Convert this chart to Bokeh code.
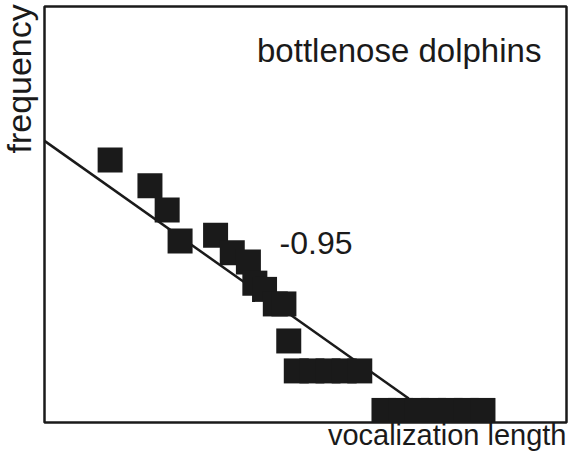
import numpy as np
from bokeh.plotting import figure
from bokeh.models import Range1d, Label, BoxAnnotation
from bokeh.embed import file_html
from bokeh.resources import INLINE

# data (arbitrary log-like units)
voc_len = [1.22, 1.96, 2.28, 2.52, 3.18, 3.49, 3.79, 3.91, 4.09, 4.29, 4.45, 4.54,
           4.68, 4.97, 5.27, 5.57, 5.86,
           6.31, 6.62, 6.92, 7.23, 7.54, 7.84, 8.15]
freq = [6.31, 5.69, 5.11, 4.36, 4.50, 4.08, 3.86, 3.35, 3.20, 2.85, 2.85, 1.96,
        1.24, 1.24, 1.24, 1.24, 1.24,
        0.29, 0.29, 0.29, 0.29, 0.29, 0.29, 0.29]
fit_intercept = 6.77
fit_slope = -0.915
fit_x = [0.0, 6.77]
species = "bottlenose dolphins"
slope_label = "-0.95"
x_title = "vocalization length"
y_title = "frequency"

FONT = "Liberation Sans"
INK = "#1a1a1a"

W, H = 568, 452
PX_X, PX_Y = 53.8, 41.6          # pixels per data unit
LEFT, BOTTOM = 44, 422           # pixel position of the data origin

p = figure(width=W, height=H, output_backend="svg", toolbar_location=None,
           x_axis_type=None, y_axis_type=None,
           x_range=Range1d(-LEFT / PX_X, (W - LEFT) / PX_X),
           y_range=Range1d(-(H - BOTTOM) / PX_Y, BOTTOM / PX_Y),
           min_border=0)
p.outline_line_color = None
p.background_fill_color = "white"
p.border_fill_color = "white"

# plot box
p.add_layout(BoxAnnotation(left=0, right=(W - 2 - LEFT) / PX_X, bottom=0, top=10.0,
                           fill_color=None, fill_alpha=0, line_color=INK,
                           line_alpha=1.0, line_width=2.5))

fx = np.array(fit_x)
p.line(fx, fit_intercept + fit_slope * fx, line_color=INK, line_width=2.5)
p.scatter(voc_len, freq, marker="square", size=25, fill_color=INK, line_color=None)

p.add_layout(Label(x=3.95, y=8.94, text=species, text_font=FONT, text_font_size="33px",
                   text_color=INK, text_baseline="alphabetic", text_align="left"))
p.add_layout(Label(x=4.37, y=4.32, text=slope_label, text_font=FONT, text_font_size="32px",
                   text_color=INK, text_baseline="alphabetic", text_align="left"))
p.add_layout(Label(x=(W - 2 - LEFT) / PX_X, y=-0.31, text=x_title, text_font=FONT,
                   text_font_size="29px", text_color=INK, text_baseline="alphabetic",
                   text_align="right"))
p.add_layout(Label(x=-0.48, y=8.26, text=y_title, text_font=FONT, text_font_size="34px",
                   text_color=INK, text_baseline="alphabetic", text_align="center",
                   angle=np.pi / 2))

open("out.html", "w").write(file_html(p, INLINE))
